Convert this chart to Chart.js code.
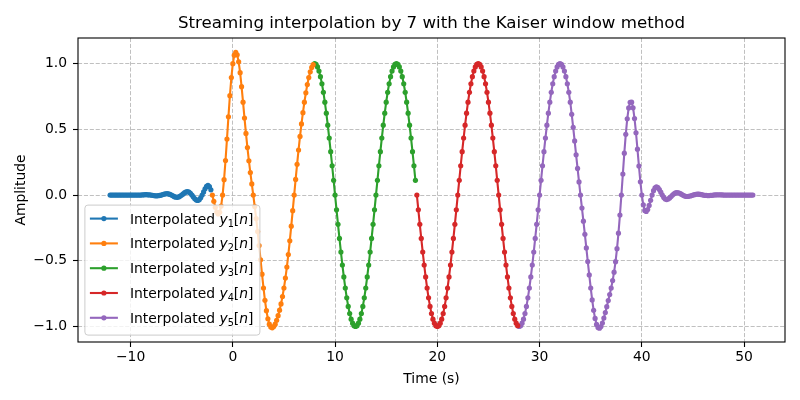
<!DOCTYPE html>
<html>
<head>
<meta charset="utf-8">
<script src="https://cdn.jsdelivr.net/npm/chart.js@4.4.1/dist/chart.umd.min.js"></script>
<style>
  html, body { margin: 0; padding: 0; background: #fff; }
  #wrap { width: 800px; height: 400px; }
</style>
</head>
<body>
<div id="wrap"><canvas id="interpChart" width="800" height="400"></canvas></div>
<script>
// sampling: interpolation by 7 -> one output sample every 1/7 s
const step = 1 / 7;
const startTimes = [-12, -2, 8, 18, 28];
const subscripts = ['1', '2', '3', '4', '5'];
const colors = ['#1f77b4', '#ff7f0e', '#2ca02c', '#d62728', '#9467bd'];

const y1 = [
  0, 0, 0, 0, 0, 0, 0,
  0, 0, 0, 0, 0, 0, 0,
  0, 0, 0, 0, 0, 0, 0,
  0, 0.001, 0.002, 0.003, 0.003, 0.002, 0.001,
  0, -0.002, -0.004, -0.006, -0.006, -0.005, -0.003,
  0, 0.004, 0.007, 0.010, 0.011, 0.009, 0.005,
  0, -0.006, -0.012, -0.016, -0.017, -0.014, -0.008,
  0, 0.009, 0.018, 0.024, 0.026, 0.023, 0.013,
  0, -0.014, -0.028, -0.038, -0.041, -0.035, -0.021,
  0, 0.024, 0.048, 0.066, 0.073, 0.064, 0.040
];
const y2 = [
  0, -0.047, -0.093, -0.129, -0.144, -0.131, -0.084,
  0, 0.117, 0.263, 0.426, 0.596, 0.756, 0.894,
  1.000, 1.064, 1.085, 1.067, 1.014, 0.931, 0.825,
  0.707, 0.586, 0.469, 0.361, 0.261, 0.171, 0.085,
  0, -0.087, -0.179, -0.278, -0.384, -0.493, -0.602,
  -0.707, -0.801, -0.880, -0.941, -0.982, -1.004, -1.010,
  -1.000, -0.982, -0.953, -0.918, -0.876, -0.828, -0.772,
  -0.707, -0.632, -0.548, -0.453, -0.348, -0.237, -0.119,
  0, 0.119, 0.234, 0.343, 0.446, 0.541, 0.627,
  0.707, 0.778, 0.841, 0.894, 0.938, 0.971, 0.992
];
const y3 = [
  1.000, 0.994, 0.975, 0.944, 0.901, 0.847, 0.782,
  0.707, 0.623, 0.532, 0.434, 0.330, 0.223, 0.112,
  0, -0.112, -0.223, -0.330, -0.434, -0.532, -0.623,
  -0.707, -0.782, -0.847, -0.901, -0.944, -0.975, -0.994,
  -1.000, -0.994, -0.975, -0.944, -0.901, -0.847, -0.782,
  -0.707, -0.623, -0.532, -0.434, -0.330, -0.223, -0.112,
  0, 0.112, 0.223, 0.330, 0.434, 0.532, 0.623,
  0.707, 0.782, 0.847, 0.901, 0.944, 0.975, 0.994,
  1.000, 0.994, 0.975, 0.944, 0.901, 0.847, 0.782,
  0.707, 0.623, 0.532, 0.434, 0.330, 0.223, 0.112
];
const y4 = [
  0, -0.112, -0.223, -0.330, -0.434, -0.532, -0.623,
  -0.707, -0.782, -0.847, -0.901, -0.944, -0.975, -0.994,
  -1.000, -0.994, -0.975, -0.944, -0.901, -0.847, -0.782,
  -0.707, -0.623, -0.532, -0.434, -0.330, -0.223, -0.112,
  0, 0.112, 0.223, 0.330, 0.434, 0.532, 0.623,
  0.707, 0.782, 0.847, 0.901, 0.944, 0.975, 0.994,
  1.000, 0.994, 0.975, 0.944, 0.901, 0.847, 0.782,
  0.707, 0.623, 0.532, 0.434, 0.330, 0.223, 0.112,
  0, -0.112, -0.223, -0.330, -0.434, -0.532, -0.623,
  -0.707, -0.782, -0.847, -0.901, -0.944, -0.975, -0.994
];
const y5 = [
  -1.000, -0.994, -0.975, -0.944, -0.901, -0.847, -0.782,
  -0.707, -0.623, -0.532, -0.434, -0.330, -0.223, -0.112,
  0, 0.112, 0.223, 0.330, 0.434, 0.532, 0.623,
  0.707, 0.782, 0.847, 0.901, 0.944, 0.975, 0.994,
  1.000, 0.994, 0.975, 0.944, 0.901, 0.847, 0.782,
  0.707, 0.614, 0.515, 0.412, 0.306, 0.203, 0.100,
  0, -0.099, -0.199, -0.299, -0.402, -0.506, -0.608,
  -0.707, -0.798, -0.877, -0.939, -0.984, -1.008, -1.013,
  -1.000, -0.974, -0.936, -0.894, -0.849, -0.803, -0.757,
  -0.707, -0.651, -0.587, -0.507, -0.408, -0.290, -0.152,
  0, 0.160, 0.319, 0.462, 0.580, 0.663, 0.706,
  0.707, 0.664, 0.582, 0.474, 0.349, 0.221, 0.101,
  0, -0.074, -0.117, -0.125, -0.110, -0.079, -0.040,
  0, 0.033, 0.054, 0.062, 0.057, 0.042, 0.022,
  0, -0.018, -0.030, -0.034, -0.030, -0.022, -0.011,
  0, 0.010, 0.016, 0.019, 0.017, 0.013, 0.007,
  0, -0.006, -0.010, -0.011, -0.010, -0.007, -0.004,
  0, 0.003, 0.006, 0.007, 0.007, 0.005, 0.003,
  0, -0.002, -0.003, -0.004, -0.004, -0.003, -0.002,
  0, 0.001, 0.002, 0.002, 0.002, 0.002, 0.001,
  0, 0, 0, 0, 0, 0, 0,
  0, 0, 0, 0, 0, 0, 0,
  0, 0, 0, 0, 0, 0, 0
];
const seriesValues = [y1, y2, y3, y4, y5];

const xTicks = [-10, 0, 10, 20, 30, 40, 50];
const xTickLabels = ['\u221210', '0', '10', '20', '30', '40', '50'];
const yTicks = [-1, -0.5, 0, 0.5, 1];
const yTickLabels = ['\u22121.0', '\u22120.5', '0.0', '0.5', '1.0'];

const FONT = 'DejaVu Sans';
const FS = 13.9;

function drawLegendLabel(ctx, x, y, sub) {
  ctx.textBaseline = 'alphabetic';
  ctx.textAlign = 'left';
  const parts = [
    ['Interpolated ', `${FS}px "${FONT}"`, 0],
    ['y', `italic ${FS}px "${FONT}"`, 0],
    [sub, `${FS * 0.7}px "${FONT}"`, FS * 0.22],
    ['[', `${FS}px "${FONT}"`, 0],
    ['n', `italic ${FS}px "${FONT}"`, 0],
    [']', `${FS}px "${FONT}"`, 0]
  ];
  parts.forEach(([txt, font, dy]) => {
    ctx.font = font;
    ctx.fillText(txt, x, y + dy);
    x += ctx.measureText(txt).width;
  });
}

const decorations = {
  id: 'decorations',
  afterDatasetsDraw(chart) {
    const { ctx, chartArea: a } = chart;
    // legend box, lower left inside the axes
    const pad = 6.9, w = 175, h = 130;
    const bx = a.left + pad, by = a.bottom - pad - h;
    ctx.save();
    ctx.beginPath();
    ctx.roundRect(bx, by, w, h, 3);
    ctx.fillStyle = 'rgba(255,255,255,0.8)';
    ctx.fill();
    ctx.strokeStyle = '#cccccc';
    ctx.lineWidth = 1;
    ctx.stroke();
    const rowH = 24.8;
    colors.forEach((c, i) => {
      const cy = by + 13.5 + i * rowH;
      ctx.strokeStyle = c;
      ctx.lineWidth = 2.1;
      ctx.beginPath();
      ctx.moveTo(bx + 5, cy);
      ctx.lineTo(bx + 33, cy);
      ctx.stroke();
      ctx.fillStyle = c;
      ctx.beginPath();
      ctx.arc(bx + 19, cy, 2.6, 0, Math.PI * 2);
      ctx.fill();
      ctx.fillStyle = '#000';
      drawLegendLabel(ctx, bx + 45, cy + 5, subscripts[i]);
    });
    ctx.restore();
  },
  afterDraw(chart) {
    const { ctx, chartArea: a } = chart;
    ctx.save();
    ctx.strokeStyle = '#000';
    ctx.lineWidth = 1.1;
    ctx.strokeRect(a.left, a.top, a.right - a.left, a.bottom - a.top);
    ctx.fillStyle = '#000';
    ctx.textAlign = 'center';
    ctx.textBaseline = 'alphabetic';
    const cx = (a.left + a.right) / 2;
    ctx.font = `16.67px "${FONT}"`;
    ctx.fillText('Streaming interpolation by 7 with the Kaiser window method', cx, 28);
    ctx.font = `${FS}px "${FONT}"`;
    ctx.fillText('Time (s)', cx, 383);
    ctx.translate(25, (a.top + a.bottom) / 2);
    ctx.rotate(-Math.PI / 2);
    ctx.fillText('Amplitude', 0, 0);
    ctx.restore();
  }
};

const datasets = seriesValues.map((vals, i) => ({
  label: `Interpolated y${subscripts[i]}[n]`,
  data: vals.map((v, k) => ({ x: startTimes[i] + k * step, y: v })),
  borderColor: colors[i],
  backgroundColor: colors[i],
  pointBackgroundColor: colors[i],
  borderWidth: 2.1,
  pointRadius: 2.6,
  pointHoverRadius: 2.6,
  pointBorderWidth: 0,
  tension: 0,
  fill: false
}));

function axisOpts(ticks, labels) {
  return {
    type: 'linear',
    afterBuildTicks: s => { s.ticks = ticks.map(v => ({ value: v })); },
    grid: {
      color: '#b0b0b0',
      lineWidth: 0.8,
      tickColor: '#000',
      tickLength: 5,
      tickWidth: 1.1,
      tickBorderDash: []
    },
    border: { display: false, dash: [4.1, 1.8] },
    ticks: {
      autoSkip: false,
      maxRotation: 0,
      color: '#000',
      font: { family: FONT, size: FS },
      callback: (v, i) => labels[i]
    }
  };
}

const xAxis = axisOpts(xTicks, xTickLabels);
xAxis.min = -15.14;
xAxis.max = 54.0;
xAxis.afterFit = s => { s.height = 58; };
xAxis.ticks.padding = 2;

const yAxis = axisOpts(yTicks, yTickLabels);
yAxis.min = -1.118;
yAxis.max = 1.195;
yAxis.afterFit = s => { s.width = 78; };
yAxis.ticks.padding = 6;

new Chart(document.getElementById('interpChart').getContext('2d'), {
  type: 'line',
  data: { datasets },
  options: {
    responsive: false,
    animation: false,
    devicePixelRatio: 1,
    layout: { padding: { top: 38, right: 15, left: 0, bottom: 0 } },
    plugins: {
      legend: { display: false },
      title: { display: false },
      tooltip: { enabled: false }
    },
    scales: { x: xAxis, y: yAxis }
  },
  plugins: [decorations]
});
</script>
</body>
</html>
